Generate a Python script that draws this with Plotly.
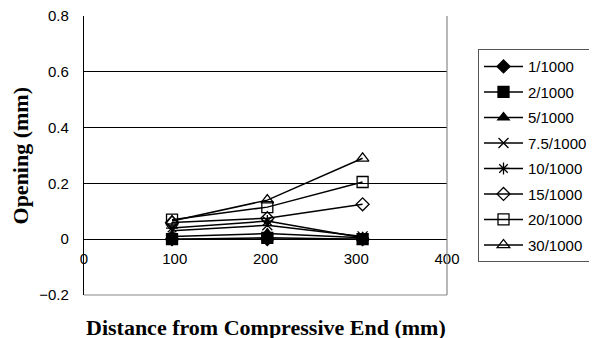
import plotly.graph_objects as go

distance = [97, 202, 307]
series_names = ["1/1000", "2/1000", "5/1000", "7.5/1000", "10/1000", "15/1000", "20/1000", "30/1000"]
s1 = [0.0, 0.0, 0.0]
s2 = [0.0, 0.005, 0.0]
s5 = [0.01, 0.02, 0.005]
s7_5 = [0.03, 0.05, 0.01]
s10 = [0.04, 0.065, 0.005]
s15 = [0.06, 0.075, 0.125]
s20 = [0.07, 0.115, 0.205]
s30 = [0.065, 0.14, 0.29]
series_values = [s1, s2, s5, s7_5, s10, s15, s20, s30]
symbols = ["diamond", "square", "triangle-up", "x-thin-open", "asterisk-open",
           "diamond-open", "square-open", "triangle-up-open"]
sizes = [10, 11, 10, 10, 10, 10, 11, 11]
y_ticks = [-0.2, 0, 0.2, 0.4, 0.6, 0.8]
x_ticks = [0, 100, 200, 300, 400]

# page body has an 8px margin; figure is sized/offset to compensate
fig = go.Figure()
for i, (name, vals) in enumerate(zip(series_names, series_values)):
    fig.add_trace(go.Scatter(
        x=distance, y=vals, name=name, mode="lines+markers",
        legendgroup=f"g{i}",
        line=dict(color="black", width=1.5),
        marker=dict(symbol=symbols[i], size=sizes[i], color="black",
                    line=dict(color="black", width=1.3)),
    ))

fig.update_layout(
    template="none",
    width=589, height=330,
    margin=dict(l=76, r=150, t=8, b=43, autoexpand=False),
    paper_bgcolor="white", plot_bgcolor="white",
    font=dict(family="Liberation Sans, Arial, sans-serif", color="black"),
    showlegend=True,
    legend=dict(
        x=1.0854, y=0.881, xanchor="left", yanchor="top",
        bordercolor="#555555", borderwidth=1,
        font=dict(size=15, family="Liberation Sans, Arial, sans-serif"),
        tracegroupgap=3, itemwidth=39,
    ),
    xaxis=dict(
        range=[0, 400], tickvals=x_ticks, ticktext=[str(v) for v in x_ticks],
        anchor="free", position=0.2, automargin=False,
        showline=True, linecolor="black", linewidth=1.2,
        showgrid=False, zeroline=False,
        ticks="", tickfont=dict(size=15), ticklabelstandoff=6,
        ticklabeloverflow="allow",
    ),
    yaxis=dict(
        range=[-0.2, 0.8], tickvals=y_ticks, automargin=False,
        ticktext=["\u22120.2", "0", "0.2", "0.4", "0.6", "0.8"],
        showline=True, linecolor="black", linewidth=1.2,
        showgrid=True, gridcolor="black", gridwidth=1,
        zeroline=False, ticks="", tickfont=dict(size=15),
        ticklabelstandoff=11, ticklabeloverflow="allow",
    ),
    shapes=[
        dict(type="line", xref="paper", yref="paper", x0=1, x1=1, y0=0, y1=1,
             line=dict(color="#888888", width=1.2)),
        dict(type="line", xref="paper", yref="paper", x0=0, x1=1, y0=0, y1=0,
             line=dict(color="#888888", width=1.2)),
    ],
    annotations=[
        dict(text="<b>Opening (mm)</b>", xref="paper", yref="paper",
             x=-0.1736, y=0.5, xanchor="center", yanchor="middle", textangle=-90,
             showarrow=False,
             font=dict(family="Liberation Serif, Times New Roman, serif", size=22)),
        dict(text="<b>Distance from Compressive End (mm)</b>", xref="paper", yref="paper",
             x=0.5, y=-0.065, xanchor="center", yanchor="top",
             showarrow=False,
             font=dict(family="Liberation Serif, Times New Roman, serif", size=22)),
    ],
)

fig.write_html("out.html")
